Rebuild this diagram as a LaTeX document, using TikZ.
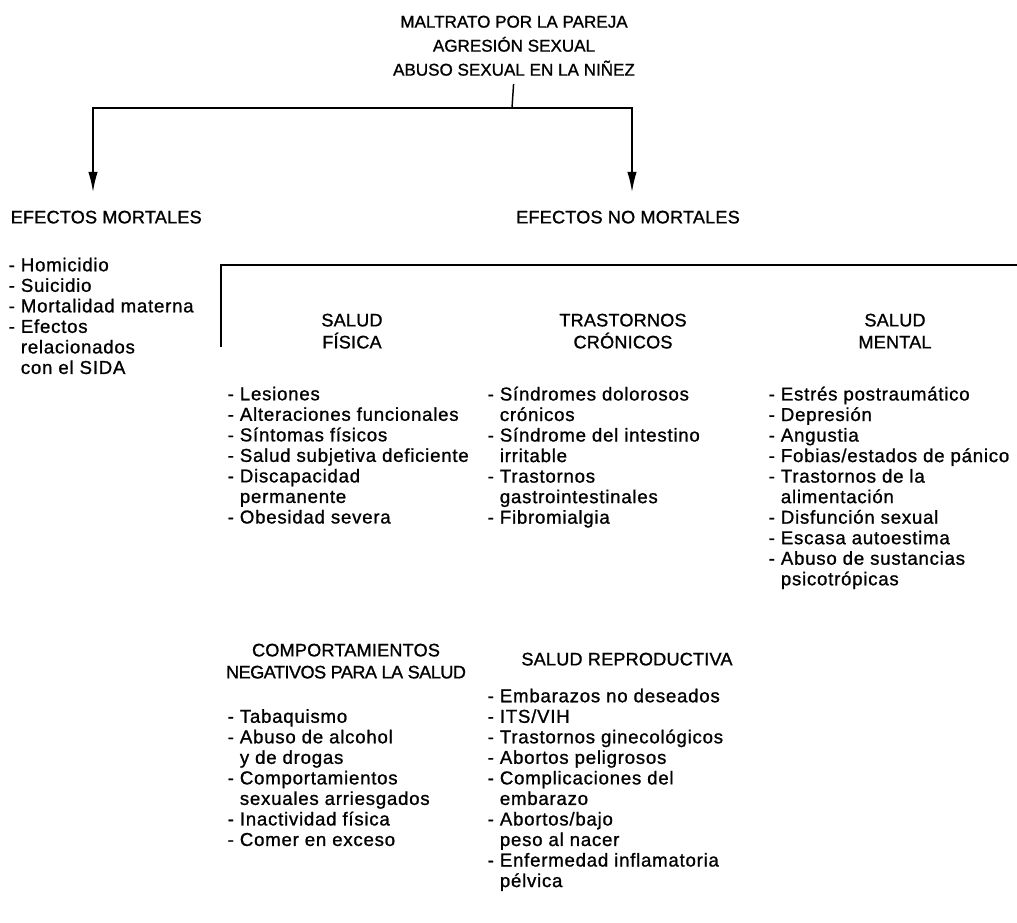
\documentclass[tikz,border=0pt]{standalone}
\usepackage{fontspec}
\setmainfont[LetterSpace=4,FakeBold=1]{Liberation Sans}
\newfontfamily\capsfont[LetterSpace=1,FakeBold=1]{Liberation Sans}
\newfontfamily\titlefont[LetterSpace=0,FakeBold=1]{Liberation Sans}
\newfontfamily\narrowfont[LetterSpace=-3,FakeBold=1]{Liberation Sans}
\usetikzlibrary{arrows.meta}

\tikzset{
  txt/.style={inner sep=0.75pt, font=\fontsize{14}{15.4}\selectfont, align=left, anchor=north west},
  head/.style={txt, align=center, anchor=north, font=\capsfont\fontsize{13.6}{16.5}\selectfont},
  arr/.style={-{Latex[length=15pt,width=7pt]}},
}

\begin{document}
\begin{tikzpicture}[x=0.75pt,y=0.75pt,yscale=-1,xscale=1,line width=1.1pt]
	\useasboundingbox (0,0) rectangle (1017,923);
	% cause and the two kinds of effect
	\node (title) [head, font=\titlefont\fontsize{12.8}{18}\selectfont] at (514,14) {MALTRATO POR LA PAREJA\\AGRESIÓN SEXUAL\\ABUSO SEXUAL EN LA NIÑEZ};
	\coordinate (split) at (512,108);
	\coordinate (tipmort) at (93,192);
	\coordinate (tipnomort) at (632,192);
	\draw [shorten <=5pt] (title.south) -- (split);
	\draw [arr] (split) -| (tipmort);
	\draw [arr] (split) -| (tipnomort);
	\node (mortal) [head, anchor=north west] at (9,209) {EFECTOS MORTALES};
	\node (nomortal) [head] at (628,209) {EFECTOS NO MORTALES};
	\node (mortlist) [txt] at (7,256) {- Homicidio\\- Suicidio\\- Mortalidad materna\\- Efectos\\\phantom{- }relacionados\\\phantom{- }con el SIDA};
	% bracket over the non fatal effects
	\coordinate (brbot) at (221,347);
	\coordinate (brend) at (1017,265);
	\draw (brbot) |- (brend);
	% first row
	\node (fisica) [head] at (352,312) {SALUD\\FÍSICA};
	\node (cronic) [head] at (623,312) {TRASTORNOS\\CRÓNICOS};
	\node (mental) [head] at (895,312) {SALUD\\MENTAL};
	\node (fisicalist) [txt] at (226,385) {- Lesiones\\- Alteraciones funcionales\\- Síntomas físicos\\- Salud subjetiva deficiente\\- Discapacidad\\\phantom{- }permanente\\- Obesidad severa};
	\node (cronlist) [txt] at (486,385) {- Síndromes dolorosos\\\phantom{- }crónicos\\- Síndrome del intestino\\\phantom{- }irritable\\- Trastornos\\\phantom{- }gastrointestinales\\- Fibromialgia};
	\node (mentlist) [txt] at (767,385) {- Estrés postraumático\\- Depresión\\- Angustia\\- Fobias/estados de pánico\\- Trastornos de la\\\phantom{- }alimentación\\- Disfunción sexual\\- Escasa autoestima\\- Abuso de sustancias\\\phantom{- }psicotrópicas};
	% second row
	\node (conducta) [head] at (346,642) {COMPORTAMIENTOS\\{\narrowfont\fontsize{13.6}{16.5}\selectfont NEGATIVOS PARA LA SALUD}};
	\node (reprod) [head] at (627,651) {SALUD REPRODUCTIVA};
	\node (condlist) [txt] at (226,707.5) {- Tabaquismo\\- Abuso de alcohol\\\phantom{- }y de drogas\\- Comportamientos\\\phantom{- }sexuales arriesgados\\- Inactividad física\\- Comer en exceso};
	\node (reprolist) [txt] at (486,687) {- Embarazos no deseados\\- ITS/VIH\\- Trastornos ginecológicos\\- Abortos peligrosos\\- Complicaciones del\\\phantom{- }embarazo\\- Abortos/bajo\\\phantom{- }peso al nacer\\- Enfermedad inflamatoria\\\phantom{- }pélvica};
\end{tikzpicture}
\end{document}
